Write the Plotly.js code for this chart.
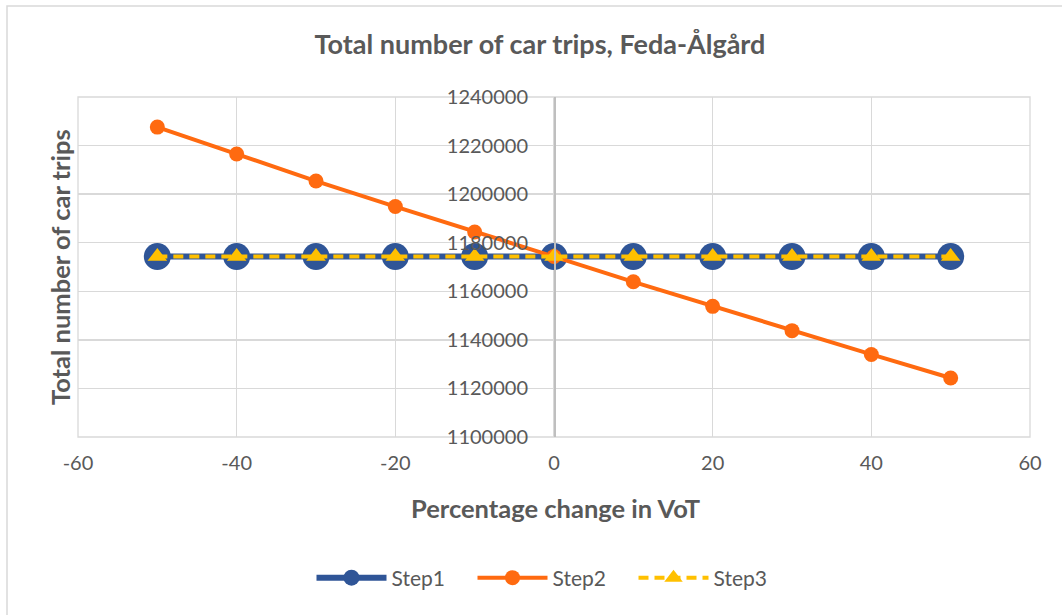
<!DOCTYPE html>
<html>
<head>
<meta charset="utf-8">
<script src="https://cdn.plot.ly/plotly-3.0.1.min.js"></script>
<style>html,body{margin:0;padding:0;background:#fff;}#chart{width:1062px;height:615px;}</style>
</head>
<body>
<div id="chart"></div>
<script>
const pctChange = [-50, -40, -30, -20, -10, 0, 10, 20, 30, 40, 50];
const step1 = [1174300, 1174300, 1174300, 1174300, 1174300, 1174300, 1174300, 1174300, 1174300, 1174300, 1174300];
const step2 = [1227600, 1216500, 1205400, 1194900, 1184400, 1174300, 1163900, 1153800, 1143800, 1134000, 1124300];
const step3 = [1174300, 1174300, 1174300, 1174300, 1174300, 1174300, 1174300, 1174300, 1174300, 1174300, 1174300];
const seriesNames = ['Step1', 'Step2', 'Step3'];
const xTickVals = [-60, -40, -20, 0, 20, 40, 60];
const xTickText = ['-60', '-40', '-20', '0', '20', '40', '60'];

const FONT = 'Lato, "Open Sans", sans-serif';
const TXT = '#595959';

const traces = [
  {x: pctChange, y: step1, name: seriesNames[0], mode: 'lines+markers',
   line: {color: '#2F5597', width: 6}, marker: {color: '#2F5597', size: 27, symbol: 'circle'}},
  {x: pctChange, y: step2, name: seriesNames[1], mode: 'lines+markers',
   line: {color: '#FF6A10', width: 4}, marker: {color: '#FF6A10', size: 15, symbol: 'circle'}},
  {x: pctChange, y: step3, name: seriesNames[2], mode: 'lines+markers',
   line: {color: '#FFC000', width: 4, dash: '10px,6px'}, marker: {color: '#FFC000', size: 17, symbol: 'triangle-up'}}
];

const W = 952, H = 340, L = 78, T = 97;
const px = x => (x - L) / W;
const py = y => 1 - (y - T) / H;

const layout = {
  width: 1062, height: 615,
  margin: {l: L, r: 1062 - L - W, t: T, b: 615 - T - H, pad: 0},
  paper_bgcolor: '#fff', plot_bgcolor: '#fff',
  font: {family: FONT, color: TXT, size: 20},
  title: {text: '<b>Total number of car trips, Feda-Ålgård</b>', font: {family: FONT, size: 27, color: TXT},
          xref: 'container', x: 540 / 1062, xanchor: 'center', yref: 'container', y: 1 - 45 / 615, yanchor: 'middle'},
  xaxis: {range: [-60, 60], tickvals: xTickVals, ticktext: xTickText, showgrid: true, gridcolor: '#D9D9D9', gridwidth: 1.3,
          zeroline: false, showline: false, ticks: '', ticklabelstandoff: 12,
          tickfont: {family: FONT, size: 20, color: TXT}, fixedrange: true},
  yaxis: {range: [1100000, 1240000], dtick: 20000, showgrid: true, gridcolor: '#D9D9D9', gridwidth: 1.3,
          zeroline: false, showline: true, linecolor: '#BFBFBF', linewidth: 1.5,
          anchor: 'free', position: 0.5, side: 'left', ticks: '', ticklabelstandoff: 22,
          tickformat: 'd',
          tickfont: {family: FONT, size: 20, color: TXT}, fixedrange: true},
  showlegend: true,
  legend: {orientation: 'h', x: px(553), xanchor: 'center', y: py(578), yanchor: 'middle',
           font: {family: FONT, size: 21, color: TXT}, itemwidth: 70, entrywidth: 76, bgcolor: 'rgba(0,0,0,0)'},
  annotations: [
    {text: '<b>Percentage change in VoT</b>', xref: 'paper', yref: 'paper', x: px(555), y: py(508),
     xanchor: 'center', yanchor: 'middle', showarrow: false, font: {family: FONT, size: 25.5, color: TXT}},
    {text: '<b>Total number of car trips</b>', xref: 'paper', yref: 'paper', x: px(60), y: py(267),
     xanchor: 'center', yanchor: 'middle', textangle: -90, showarrow: false, font: {family: FONT, size: 25.5, color: TXT}}
  ],
  shapes: [
    {type: 'rect', xref: 'paper', yref: 'paper', x0: px(7), x1: px(1075), y0: py(630), y1: py(6),
     line: {color: '#D9D9D9', width: 1.5}, fillcolor: 'rgba(0,0,0,0)', layer: 'below'},
    {type: 'rect', xref: 'paper', yref: 'paper', x0: 0, x1: 1, y0: 0, y1: 1,
     line: {color: '#D9D9D9', width: 1.3}, fillcolor: 'rgba(0,0,0,0)', layer: 'below'}
  ]
};

Plotly.newPlot('chart', traces, layout, {displayModeBar: false, staticPlot: true});
</script>
</body>
</html>
